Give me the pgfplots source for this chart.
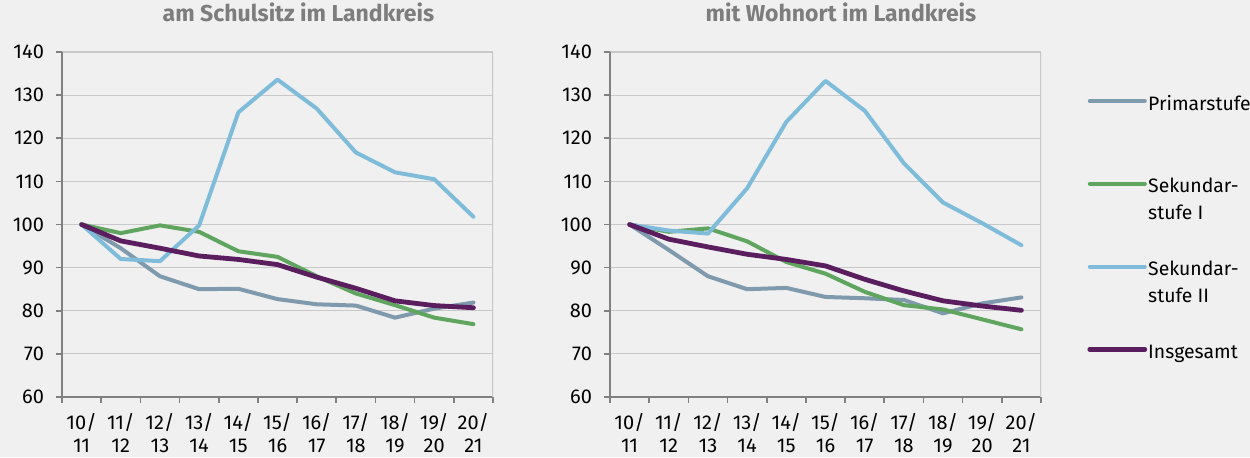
\documentclass[border=0pt]{standalone}
\usepackage{fontspec}
\setmainfont{Fira Sans}
\usepackage{pgfplots}
\pgfplotsset{compat=1.18}
\definecolor{bg}{RGB}{239,240,239}
\definecolor{cprim}{RGB}{127,154,173}
\definecolor{csek1}{RGB}{95,165,95}
\definecolor{csek2}{RGB}{127,188,217}
\definecolor{cins}{RGB}{90,30,95}
\definecolor{cgrid}{RGB}{200,200,200}
\definecolor{caxis}{RGB}{128,128,128}
\definecolor{ctitle}{RGB}{125,125,125}
\pgfplotsset{
  myaxis/.style={
    scale only axis, width=215.5pt, height=172.5pt,
    xmin=-0.5, xmax=10.5, ymin=60, ymax=140,
    ytick={60,70,...,140},
    xtick={-0.5,0.5,...,10.5},
    x tick label as interval,
    xticklabels={10/\\11,11/\\12,12/\\13,13/\\14,14/\\15,15/\\16,16/\\17,17/\\18,18/\\19,19/\\20,20/\\21},
    xticklabel style={align=center, font=\fontsize{10}{11.5}\selectfont, inner sep=1pt, yshift=-3.8pt},
    yticklabel style={font=\fontsize{10}{12}\selectfont, xshift=-2.5pt},
    /pgf/number format/assume math mode=true,
    axis x line*=bottom, axis y line*=left,
    axis line style={caxis, line width=0.8pt, -},
    tick style={caxis, line width=0.8pt},
    major tick length=3pt, tick align=outside,
    ymajorgrids, grid style={cgrid, line width=0.6pt},
    title style={font=\fontsize{11.5}{13}\selectfont\bfseries, text=ctitle, anchor=base, at={(axis description cs:0.5,1)}, yshift=9.4pt},
    every axis plot/.append style={line width=2pt, line join=round, line cap=round, no markers},
    legend image code/.code={\path[draw=none,fill=none] (0pt,-7.3pt) rectangle (27.5pt,7.3pt); \draw[#1] (0pt,7.3pt) -- (27.5pt,7.3pt);},
  }
}
\begin{document}
\begin{tikzpicture}
\useasboundingbox (0,0) rectangle (625pt,228.5pt);
\fill[bg] (0,0) rectangle (625pt,228.5pt);
\begin{axis}[myaxis, at={(31pt,30pt)}, anchor=south west, title={am Schulsitz im Landkreis}, title style={xshift=10.5pt}]
\addplot[cprim] coordinates {(0,100) (1,94.5) (2,88) (3,85) (4,85.1) (5,82.7) (6,81.5) (7,81.2) (8,78.4) (9,80.5) (10,81.9)};
\addplot[csek1] coordinates {(0,100) (1,98) (2,99.8) (3,98.3) (4,93.8) (5,92.5) (6,88.0) (7,84.0) (8,81.3) (9,78.4) (10,76.9)};
\addplot[csek2] coordinates {(0,100) (1,92) (2,91.5) (3,99.8) (4,126) (5,133.6) (6,126.9) (7,116.7) (8,112.1) (9,110.5) (10,101.8)};
\addplot[cins, line width=2.4pt] coordinates {(0,100) (1,96.2) (2,94.5) (3,92.7) (4,91.9) (5,90.7) (6,87.8) (7,85.2) (8,82.3) (9,81.2) (10,80.7)};
\draw[cgrid, line width=0.6pt] (rel axis cs:1,0) -- (rel axis cs:1,1);
\end{axis}
\begin{axis}[myaxis, at={(305pt,30pt)}, anchor=south west, title={mit Wohnort im Landkreis}, title style={xshift=7.75pt},
  legend style={at={(axis description cs:1,1)}, anchor=north west, xshift=23pt, yshift=-19.5pt,
    draw=none, fill=none, inner sep=0pt, row sep=17.3pt, column sep=0.5pt,
    nodes={inner sep=0pt, align=left, font=\fontsize{9.7}{13.3}\selectfont}},
  legend cell align=left]
\addplot[cprim] coordinates {(0,100) (1,94.1) (2,88) (3,85) (4,85.3) (5,83.2) (6,82.9) (7,82.5) (8,79.4) (9,81.7) (10,83.1)};
\addlegendentry{\strut Primarstufe\\\strut}
\addplot[csek1] coordinates {(0,100) (1,98.3) (2,99.1) (3,96.1) (4,91.3) (5,88.6) (6,84.4) (7,81.3) (8,80.3) (9,78.0) (10,75.7)};
\addlegendentry{\strut Sekundar-\\\strut stufe I}
\addplot[csek2] coordinates {(0,100) (1,98.6) (2,97.9) (3,108.4) (4,123.8) (5,133.3) (6,126.4) (7,114.2) (8,105.1) (9,100.3) (10,95.2)};
\addlegendentry{\strut Sekundar-\\\strut stufe II}
\addplot[cins, line width=2.4pt] coordinates {(0,100) (1,96.6) (2,94.8) (3,93.1) (4,91.9) (5,90.4) (6,87.3) (7,84.6) (8,82.3) (9,81.1) (10,80.1)};
\addlegendentry{\strut Insgesamt\\\strut}
\draw[cgrid, line width=0.6pt] (rel axis cs:1,0) -- (rel axis cs:1,1);
\end{axis}
\end{tikzpicture}
\end{document}
